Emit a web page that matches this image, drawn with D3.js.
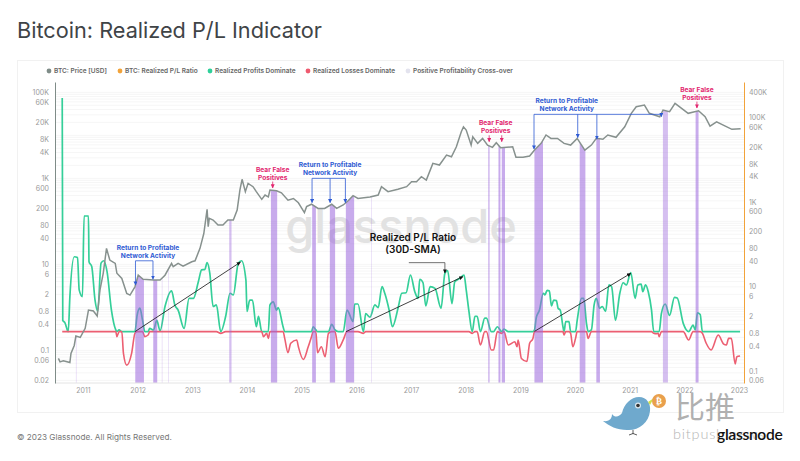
<!DOCTYPE html>
<html>
<head>
<meta charset="utf-8">
<script src="https://cdn.jsdelivr.net/npm/d3@7"></script>
<style>
  html, body { margin: 0; padding: 0; background: #fff; }
  svg { display: block; font-family: Inter, "Noto Sans", sans-serif; }
</style>
</head>
<body>
<svg id="chart"></svg>
<script>
// BTC price, USD, left axis
const priceYears = [2010.55,2010.58,2010.64,2010.76,2010.78,2010.84,2010.87,2010.95,2011.04,2011.10,2011.19,2011.26,2011.31,2011.37,2011.43,2011.49,2011.59,2011.62,2011.71,2011.80,2011.86,2011.95,2012.01,2012.10,2012.29,2012.41,2012.50,2012.62,2012.65,2012.74,2012.83,2012.99,2013.05,2013.14,2013.21,2013.27,2013.29,2013.31,2013.38,2013.47,2013.56,2013.65,2013.75,2013.82,2013.87,2013.91,2013.97,2014.02,2014.11,2014.17,2014.27,2014.33,2014.39,2014.42,2014.54,2014.63,2014.75,2014.85,2014.94,2015.05,2015.09,2015.18,2015.30,2015.42,2015.55,2015.64,2015.76,2015.85,2015.94,2016.03,2016.25,2016.40,2016.46,2016.58,2016.76,2016.92,2017.01,2017.10,2017.19,2017.28,2017.40,2017.52,2017.65,2017.74,2017.83,2017.92,2017.96,2018.01,2018.10,2018.13,2018.22,2018.31,2018.40,2018.49,2018.56,2018.64,2018.86,2018.92,2019.05,2019.17,2019.26,2019.38,2019.47,2019.56,2019.68,2019.80,2019.92,2020.04,2020.18,2020.30,2020.39,2020.51,2020.60,2020.75,2020.91,2021.03,2021.12,2021.27,2021.36,2021.55,2021.61,2021.73,2021.83,2021.95,2022.07,2022.26,2022.38,2022.47,2022.59,2022.75,2022.87,2023.03];
const priceValues = [0.065,0.054,0.057,0.052,0.085,0.13,0.215,0.20,0.325,0.865,0.82,0.63,2.5,6.2,23.5,12.6,10.5,6.2,4.7,2.1,1.93,3.0,5.6,4.5,4.3,4.3,5.6,10.5,8.8,10.5,9.1,11.5,12.1,23.5,52,190,75,117,107,82,82,107,107,183,535,950,490,765,640,490,325,410,370,535,515,460,310,340,270,160,220,250,200,200,250,200,240,300,395,340,370,410,640,490,555,640,830,830,1090,910,2230,2040,3480,3180,5430,12100,15800,13300,5940,9270,6500,8500,5940,5260,6730,5150,5430,3080,3080,3300,4550,6500,10200,8500,8500,6500,5940,8500,4550,5940,8500,8100,10200,9000,15800,32500,46200,50700,32500,27100,38700,35400,55500,42500,32500,37300,27100,16400,20700,16400,13800,14200];

// Realized P/L ratio (30D-SMA), right axis
const ratioYears = [2010.62,2010.63,2010.67,2010.73,2010.76,2010.84,2010.90,2010.93,2010.99,2011.02,2011.10,2011.11,2011.16,2011.22,2011.27,2011.33,2011.38,2011.44,2011.52,2011.60,2011.62,2011.66,2011.71,2011.74,2011.80,2011.89,2011.95,2011.99,2012.04,2012.09,2012.13,2012.19,2012.22,2012.29,2012.35,2012.41,2012.50,2012.62,2012.68,2012.74,2012.85,2012.94,2013.02,2013.11,2013.17,2013.23,2013.27,2013.32,2013.38,2013.44,2013.52,2013.61,2013.69,2013.75,2013.84,2013.90,2013.98,2014.00,2014.05,2014.10,2014.17,2014.21,2014.27,2014.30,2014.36,2014.39,2014.42,2014.48,2014.54,2014.57,2014.66,2014.69,2014.75,2014.80,2014.91,2014.94,2015.03,2015.12,2015.18,2015.21,2015.26,2015.29,2015.36,2015.43,2015.49,2015.55,2015.61,2015.67,2015.76,2015.83,2015.94,2015.97,2016.03,2016.13,2016.17,2016.25,2016.34,2016.40,2016.47,2016.52,2016.60,2016.66,2016.77,2016.83,2016.91,2016.99,2017.07,2017.13,2017.16,2017.22,2017.27,2017.35,2017.44,2017.55,2017.62,2017.67,2017.75,2017.80,2017.89,2017.97,2018.01,2018.06,2018.12,2018.17,2018.21,2018.27,2018.35,2018.38,2018.47,2018.51,2018.58,2018.66,2018.70,2018.78,2018.90,2018.94,2018.96,2019.02,2019.12,2019.17,2019.23,2019.26,2019.29,2019.35,2019.42,2019.45,2019.49,2019.53,2019.57,2019.61,2019.66,2019.69,2019.73,2019.78,2019.80,2019.83,2019.89,2019.92,2019.96,2020.01,2020.04,2020.12,2020.16,2020.21,2020.24,2020.30,2020.35,2020.39,2020.45,2020.50,2020.56,2020.62,2020.67,2020.74,2020.82,2020.88,2020.94,2021.02,2021.10,2021.15,2021.21,2021.24,2021.29,2021.34,2021.40,2021.44,2021.49,2021.52,2021.54,2021.58,2021.65,2021.73,2021.82,2021.87,2021.98,2022.08,2022.16,2022.20,2022.24,2022.29,2022.33,2022.40,2022.49,2022.62,2022.72,2022.77,2022.81,2022.86,2022.93,2022.96,2023.02];
const ratioValues = [288000,1.6,1.4,0.865,5.8,51,49,8.4,5.8,469,469,39,30,4.8,2.6,36,41,22.6,2.8,0.95,0.66,0.95,0.865,0.265,0.14,0.27,0.79,2.1,3.1,1.6,0.66,0.72,1.03,0.95,1.6,0.9,3.4,8,3.7,2.8,1.03,5.3,5.3,13.1,25,25.7,37,20.7,3.4,3.7,0.79,2,7,6.4,36,41,14.4,2.6,4.8,4.8,1.13,2,0.865,0.66,0.79,0.6,3.7,4.4,2.8,3.2,1.13,0.6,0.275,0.46,0.55,0.38,0.19,0.38,0.66,1.13,0.95,0.275,0.38,0.22,0.79,1.29,0.95,0.35,0.55,2.8,1.5,3.9,3.9,0.79,2.3,1.9,3.7,3.2,10,7,2.8,1.13,3.4,7,7.2,18.9,7.6,5.3,15,12.4,3.5,10,9.1,3.1,20.7,24,4,13,15.7,18.9,8.4,2.6,0.79,2,2,0.42,1.8,1.8,0.32,0.32,1.13,0.79,1,0.42,0.5,0.38,0.55,0.2,0.17,0.46,0.6,0.95,1.8,2.8,7,6.4,8.2,8,3.5,4.8,4.7,3.1,2.8,1.13,0.72,1.5,1.5,0.79,0.38,0.6,1.6,5.3,5.3,1.36,0.6,0.95,3.7,5.3,3.1,3.4,2.6,11,10,1.6,7,12.4,11,21.5,5.3,11,11.5,7.6,11,7.6,2.8,0.79,0.77,0.79,0.66,2.3,3.9,2.1,5.6,5.4,1.36,0.55,1.24,0.95,2.4,2.2,0.79,0.46,0.32,0.72,0.44,0.42,0.6,0.6,0.15,0.22,0.23];
const ratioThreshold = 0.865;

// cross-over periods [start year, end year]
const strongBands = [[2011.956,2012.115],[2012.285,2012.358],[2014.437,2014.552],[2015.192,2015.26],[2015.515,2015.612],[2015.808,2015.96],[2018.6,2018.636],[2018.66,2018.72],[2019.258,2019.415],[2020.086,2020.19],[2020.39,2020.456],[2022.206,2022.26]];
const lightBands = [[2013.675,2013.717],[2018.41,2018.44],[2021.608,2021.7]];
const faintBands = [[2010.87,2010.885],[2012.44,2012.455],[2012.555,2012.57],[2016.27,2016.285]];

// trend arrows [year, ratio, year, ratio]
const trendArrows = [[2011.95,0.865,2013.88,38],[2015.81,0.865,2017.95,17.3],[2019.26,0.88,2021.02,20.7]];

// blue callouts: bracket price level and arrow targets [year, price]
const profitCallouts = [
  { level: 12.1, targets: [[2011.96,3.3],[2012.28,4.5]], textYear: 2012.19 },
  { level: 1000, targets: [[2015.19,271],[2015.52,271],[2015.80,271]], textYear: 2015.52 },
  { level: 30800, targets: [[2019.25,4800],[2020.05,8800],[2020.40,8100],[2021.58,27100]], textYear: 2019.85 }
];
// pink callouts
const bearCallouts = [
  { targets: [[2014.47,595]], textYear: 2014.47 },
  { targets: [[2018.43,7100],[2018.66,7100]], textYear: 2018.55 },
  { targets: [[2022.23,43000]], textYear: 2022.23 }
];

const xTicks = [2011,2012,2013,2014,2015,2016,2017,2018,2019,2020,2021,2022,2023];
const leftTicks = [100000,60000,20000,8000,4000,1000,600,200,80,40,10,6,2,0.8,0.4,0.1,0.06,0.02];
const rightTicks = [400000,100000,60000,20000,8000,4000,1000,600,200,80,40,10,6,2,0.8,0.4,0.1,0.06];
const legendLabels = ["BTC: Price [USD]","BTC: Realized P/L Ratio","Realized Profits Dominate","Realized Losses Dominate","Positive Profitability Cross-over"];
const legendColors = ["#7f8c88","#f2a33a","#2fd09a","#ef5a6f","#e3e3ee"];
const legendDots = [49,120,210,308,408];

const width = 800, height = 461;
const plotLeft = 55, plotRight = 744, plotTop = 82, plotBottom = 383;

const svg = d3.select("#chart").attr("width", width).attr("height", height);

const x = d3.scaleLinear().domain([2011, 2023]).range([83, 739]);
const yPrice = d3.scaleLog().domain([0.0174, 174000]).range([plotBottom, plotTop]);
const yRatio = d3.scaleLog().domain([0.0529, 690000]).range([plotBottom, plotTop]);

const fmt = v => v >= 1000 ? (v / 1000) + "K" : String(v);

// card
svg.append("rect").attr("x", 17.5).attr("y", 60.5).attr("width", 766).attr("height", 352)
  .attr("fill", "#fff").attr("stroke", "#f1f1f1");

svg.append("text").attr("x", 17).attr("y", 38).attr("font-size", 21.7).attr("fill", "#3f4447")
  .text("Bitcoin: Realized P/L Indicator");

// legend
legendLabels.forEach((label, i) => {
  svg.append("circle").attr("cx", legendDots[i]).attr("cy", 71).attr("r", 2.4).attr("fill", legendColors[i]);
  svg.append("text").attr("x", legendDots[i] + 5).attr("y", 73.3).attr("font-size", 6.5)
    .attr("font-weight", 600).attr("fill", "#666").text(label);
});

// grid, one line per log minor step
const gridValues = [];
for (let e = -2; e <= 5; e++) {
  for (let m = 1; m < 10; m++) {
    const v = m * Math.pow(10, e);
    if (v >= 0.02 && v <= 170000) gridValues.push(v);
  }
}
svg.append("g").selectAll("line").data(gridValues).enter().append("line")
  .attr("x1", plotLeft).attr("x2", plotRight)
  .attr("y1", d => yPrice(d)).attr("y2", d => yPrice(d))
  .attr("stroke", "#f6f6f6").attr("stroke-width", 1);

svg.append("text").attr("x", 401).attr("y", 243).attr("text-anchor", "middle")
  .attr("font-size", 47).attr("font-weight", 500).attr("font-family", "Inter, sans-serif")
  .attr("fill", "#e2e2e2").text("glassnode");

// ratio: green keeps the part above the threshold, red the part below
const ratioIdx = d3.range(ratioYears.length);
const green = d3.line().x(i => x(ratioYears[i])).y(i => yRatio(Math.max(ratioValues[i], ratioThreshold))).curve(d3.curveMonotoneX);
const red = d3.line().x(i => x(ratioYears[i])).y(i => yRatio(Math.min(ratioValues[i], ratioThreshold))).curve(d3.curveMonotoneX);
svg.append("path").datum(ratioIdx).attr("d", green).attr("fill", "none")
  .attr("stroke", "#35cf99").attr("stroke-width", 1.7);
svg.append("path").datum(ratioIdx).attr("d", red).attr("fill", "none")
  .attr("stroke", "#ec5f72").attr("stroke-width", 1.6);

// purple bands reach up to the price line
const priceIdx = d3.range(priceYears.length);
const priceArea = d3.area().x(i => x(priceYears[i])).y0(plotBottom).y1(i => yPrice(priceValues[i]));
[[strongBands, "clip-strong", 0.55], [lightBands, "clip-light", 0.42], [faintBands, "clip-faint", 0.22]].forEach(([bands, id, op]) => {
  svg.append("clipPath").attr("id", id).selectAll("rect").data(bands).enter().append("rect")
    .attr("x", d => x(d[0])).attr("width", d => x(d[1]) - x(d[0]))
    .attr("y", plotTop).attr("height", plotBottom - plotTop);
  svg.append("path").datum(priceIdx).attr("d", priceArea)
    .attr("clip-path", `url(#${id})`).attr("fill", "#9a66dc").attr("opacity", op);
});

// price
const priceLine = d3.line().x(i => x(priceYears[i])).y(i => yPrice(priceValues[i]));
svg.append("path").datum(priceIdx).attr("d", priceLine).attr("fill", "none")
  .attr("stroke", "#87918e").attr("stroke-width", 1.5);

// axes
const xAxis = svg.append("g").attr("transform", `translate(0,${plotBottom})`)
  .call(d3.axisBottom(x).tickValues(xTicks).tickFormat(d3.format("d")).tickSize(0).tickPadding(5));
xAxis.select(".domain").remove();
svg.append("line").attr("x1", plotLeft).attr("x2", plotRight).attr("y1", plotBottom).attr("y2", plotBottom).attr("stroke", "#e4e4e4");

const leftAxis = svg.append("g").attr("transform", `translate(${plotLeft},0)`)
  .call(d3.axisLeft(yPrice).tickValues(leftTicks).tickFormat(fmt).tickSize(0).tickPadding(6));
leftAxis.select(".domain").attr("stroke", "#7f8c88").attr("stroke-width", 1);

const rightAxis = svg.append("g").attr("transform", `translate(${plotRight},0)`)
  .call(d3.axisRight(yRatio).tickValues(rightTicks).tickFormat(fmt).tickSize(0).tickPadding(5));
rightAxis.select(".domain").attr("stroke", "#f2a33a").attr("stroke-width", 1);

svg.selectAll(".tick text").attr("font-size", 7).attr("fill", "#9a9a9a").attr("font-family", "Inter, sans-serif");

// arrow heads
function marker(id, color) {
  svg.append("marker").attr("id", id).attr("viewBox", "0 0 6 6").attr("refX", 5.5).attr("refY", 3)
    .attr("markerWidth", 4).attr("markerHeight", 4).attr("markerUnits", "userSpaceOnUse").attr("orient", "auto")
    .append("path").attr("d", "M0,0L6,3L0,6Z").attr("fill", color);
}
marker("head-black", "#111");
marker("head-blue", "#2f5bd3");
marker("head-pink", "#e2276f");

trendArrows.forEach(d => {
  svg.append("line").attr("x1", x(d[0])).attr("y1", yRatio(d[1])).attr("x2", x(d[2])).attr("y2", yRatio(d[3]))
    .attr("stroke", "#111").attr("stroke-width", 0.8).attr("marker-end", "url(#head-black)");
});

// blue callouts
profitCallouts.forEach(c => {
  const yb = yPrice(c.level);
  const xs = c.targets.map(t => x(t[0]));
  svg.append("line").attr("x1", d3.min(xs)).attr("x2", d3.max(xs)).attr("y1", yb).attr("y2", yb)
    .attr("stroke", "#2f5bd3").attr("stroke-width", 0.8);
  c.targets.forEach(t => {
    svg.append("line").attr("x1", x(t[0])).attr("x2", x(t[0])).attr("y1", yb).attr("y2", yPrice(t[1]))
      .attr("stroke", "#2f5bd3").attr("stroke-width", 0.8).attr("marker-end", "url(#head-blue)");
  });
  ["Return to Profitable", "Network Activity"].forEach((line, i) => {
    svg.append("text").attr("x", x(c.textYear)).attr("y", yb - 11 + i * 8).attr("text-anchor", "middle")
      .attr("font-size", 6.6).attr("font-weight", 700).attr("fill", "#2f5bd3").text(line);
  });
});

// pink callouts
bearCallouts.forEach(c => {
  const yt = yPrice(c.targets[0][1]);
  c.targets.forEach(t => {
    svg.append("line").attr("x1", x(t[0])).attr("x2", x(t[0])).attr("y1", yPrice(t[1]) - 6.5).attr("y2", yPrice(t[1]))
      .attr("stroke", "#e2276f").attr("stroke-width", 0.8).attr("marker-end", "url(#head-pink)");
  });
  ["Bear False", "Positives"].forEach((line, i) => {
    svg.append("text").attr("x", x(c.textYear)).attr("y", yt - 16.5 + i * 8).attr("text-anchor", "middle")
      .attr("font-size", 6.6).attr("font-weight", 700).attr("fill", "#e2276f").text(line);
  });
});

// ratio label
svg.append("text").attr("x", 413).attr("y", 241).attr("text-anchor", "middle").attr("font-size", 10)
  .attr("font-weight", 600).attr("fill", "#111").text("Realized P/L Ratio");
svg.append("text").attr("x", 413).attr("y", 253).attr("text-anchor", "middle").attr("font-size", 10)
  .attr("font-weight", 600).attr("fill", "#111").text("(30D-SMA)");
svg.append("path").attr("d", d3.line()([[x(2016.96), yRatio(37)], [x(2017.62), yRatio(37)], [x(2017.62), yRatio(21)]]))
  .attr("fill", "none").attr("stroke", "#333").attr("stroke-width", 0.7).attr("marker-end", "url(#head-black)");

// footer
svg.append("text").attr("x", 17).attr("y", 440).attr("font-size", 8.2).attr("fill", "#777")
  .text("© 2023 Glassnode. All Rights Reserved.");

// bitpush stamp
const stamp = svg.append("g");
stamp.append("path").attr("d", "M603,421 C610,422 612,418 612,414 C615,418 619,417 622,413 C624,404 631,397 639,397 C647,397 651,404 650,411 C649,423 638,431 627,430 C617,430 609,426 603,421Z")
  .attr("fill", "#6fa9cd");
stamp.append("path").attr("d", "M648,402 L654,398 L650,405Z").attr("fill", "#cfe04a");
stamp.append("circle").attr("cx", 638).attr("cy", 405.5).attr("r", 3).attr("fill", "#dde8ee");
stamp.append("circle").attr("cx", 638).attr("cy", 405.5).attr("r", 1.8).attr("fill", "#333");
stamp.append("path").attr("d", "M633,430 L633,434 M629,435 Q633,432 637,435").attr("fill", "none").attr("stroke", "#333").attr("stroke-width", 0.8);
stamp.append("circle").attr("cx", 659).attr("cy", 401).attr("r", 7).attr("fill", "#e9a04c");
stamp.append("text").attr("x", 659).attr("y", 404).attr("text-anchor", "middle").attr("font-size", 9).attr("font-weight", 700).attr("fill", "#fff").attr("font-family", "DejaVu Sans").text("₿");
stamp.append("text").attr("x", 675).attr("y", 418).attr("font-size", 30).attr("font-family", "Noto Sans CJK SC").attr("fill", "#b0b0b0").text("比推");
stamp.append("text").attr("x", 673).attr("y", 439).attr("font-size", 14.5).attr("font-family", "Lato, sans-serif").attr("font-weight", 300).attr("letter-spacing", 0.8).attr("fill", "#b5b5b5").text("bitpush.news");

svg.append("text").attr("x", 717).attr("y", 440).attr("font-size", 15.6).attr("font-weight", 600).attr("letter-spacing", -0.3).attr("font-family", "Lato, Inter, sans-serif").attr("fill", "#111").text("glassnode");
</script>
</body>
</html>
